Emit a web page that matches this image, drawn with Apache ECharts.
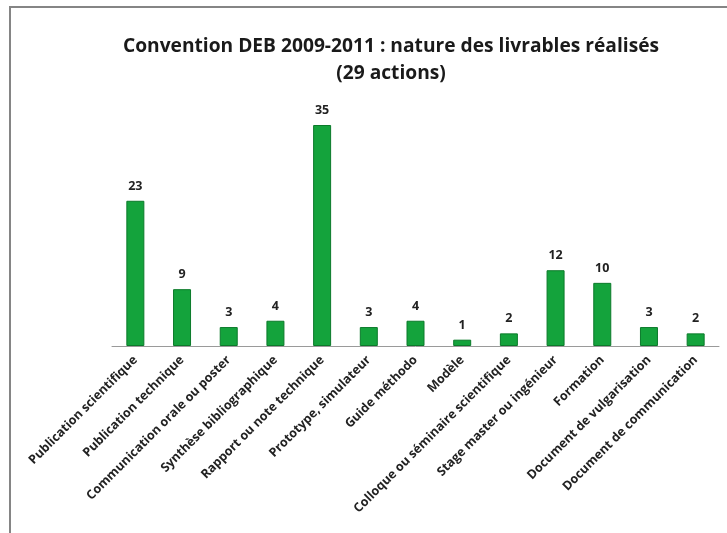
<!DOCTYPE html>
<html>
<head>
<meta charset="utf-8">
<script src="https://cdn.jsdelivr.net/npm/echarts@6/dist/echarts.min.js"></script>
<style>
  html, body { margin: 0; padding: 0; background: #fff; }
  #chart { width: 727px; height: 533px; }
</style>
</head>
<body>
<div id="chart"></div>
<script>
// Livrables réalisés, convention DEB 2009-2011
const categories = [
  'Publication scientifique',
  'Publication technique',
  'Communication orale ou poster',
  'Synthèse bibliographique',
  'Rapport ou note technique',
  'Prototype, simulateur',
  'Guide méthodo',
  'Modèle',
  'Colloque ou séminaire scientifique',
  'Stage master ou ingénieur',
  'Formation',
  'Document de vulgarisation',
  'Document de communication'
];
const values = [23, 9, 3, 4, 35, 3, 4, 1, 2, 12, 10, 3, 2];
const titleLines = ['Convention DEB 2009-2011 : nature des livrables réalisés', '(29 actions)'];

const chart = echarts.init(document.getElementById('chart'), null, { renderer: 'canvas' });

const titleFont = { fontFamily: 'Open Sans', fontWeight: 'bold', fontSize: 19.2, color: '#1a1a1a' };

chart.setOption({
  backgroundColor: '#ffffff',
  animation: false,
  title: [
    { text: titleLines[0], left: 386, top: 32, textAlign: 'center', textStyle: titleFont },
    { text: titleLines[1], left: 386, top: 59, textAlign: 'center', textStyle: titleFont }
  ],
  graphic: [
    {
      type: 'polyline',
      shape: { points: [[10, 533], [10, 7], [727, 7]] },
      style: { stroke: '#858585', lineWidth: 2, fill: null },
      silent: true
    }
  ],
  grid: { left: 112, right: 8, top: 125, bottom: 187, containLabel: false },
  xAxis: {
    type: 'category',
    data: categories,
    axisLine: { show: true, lineStyle: { color: '#9a9a9a', width: 1 } },
    axisTick: { show: false },
    axisLabel: {
      interval: 0,
      rotate: 45,
      margin: 12,
      fontFamily: 'Open Sans',
      fontWeight: 'bold',
      fontSize: 12.5,
      color: '#222222'
    }
  },
  yAxis: {
    type: 'value',
    min: 0,
    max: 35,
    show: false,
    splitLine: { show: false }
  },
  series: [
    {
      type: 'bar',
      data: values,
      barWidth: 18,
      itemStyle: { color: '#14a33c', borderColor: '#0b7a2a', borderWidth: 1 },
      label: {
        show: true,
        position: 'top',
        distance: 8,
        fontFamily: 'Open Sans',
        fontWeight: 'bold',
        fontSize: 12.5,
        color: '#222222'
      }
    }
  ]
});
</script>
</body>
</html>
